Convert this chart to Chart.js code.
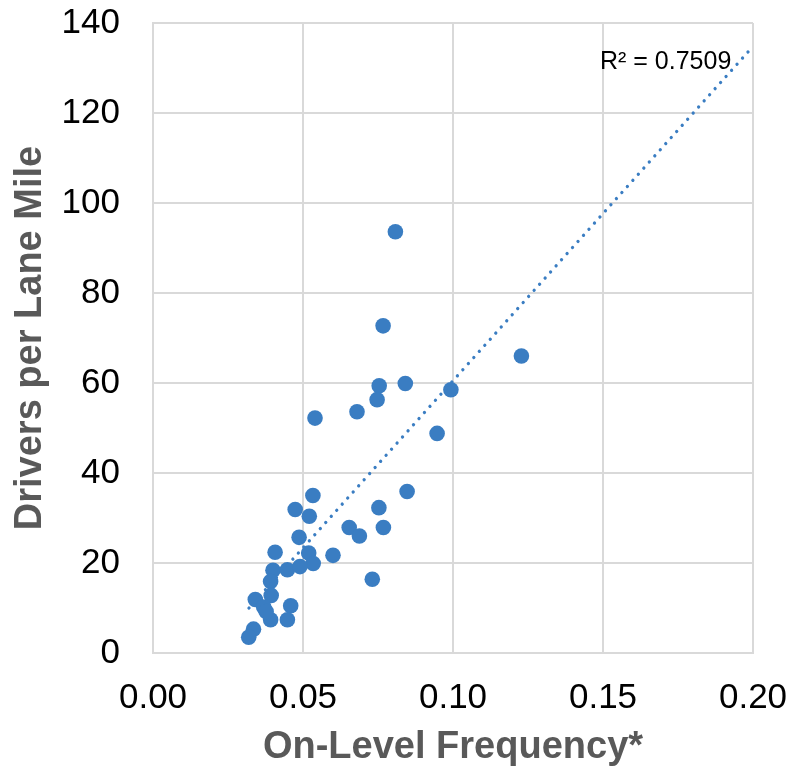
<!DOCTYPE html>
<html>
<head>
<meta charset="utf-8">
<script src="https://cdn.jsdelivr.net/npm/chart.js@4.4.1/dist/chart.umd.min.js"></script>
<style>
  html, body { margin: 0; padding: 0; background: #ffffff; }
  #wrap { width: 794px; height: 771px; }
</style>
</head>
<body>
<div id="wrap"><canvas id="c" width="794" height="771"></canvas></div>
<script>
// On-Level Frequency (x) values
const frequency = [
  0.0474, 0.0521, 0.0533, 0.0487, 0.0407, 0.0519, 0.0534, 0.0600, 0.0654, 0.0688,
  0.0400, 0.0448, 0.0490, 0.0392, 0.0394, 0.0341, 0.0369, 0.0459, 0.0392, 0.0448,
  0.0335, 0.0319, 0.0731, 0.0754, 0.0841, 0.0993, 0.0747, 0.0680, 0.0540, 0.0947,
  0.0847, 0.0753, 0.0768, 0.0808, 0.0767, 0.1228, 0.0377
];
// Drivers per Lane Mile (y) values
const drivers = [
  31.9, 30.4, 35.0, 25.7, 22.4, 22.2, 19.9, 21.7, 27.9, 26.0,
  18.4, 18.5, 19.2, 15.9, 12.8, 11.9, 10.2, 10.5, 7.4, 7.4,
  5.3, 3.5, 16.4, 59.4, 59.9, 58.5, 56.3, 53.6, 52.2, 48.8,
  35.9, 32.3, 27.9, 93.6, 72.7, 66.0, 9.2
];
// Linear trendline end points
const trendX = [0.032, 0.20];
const trendY = [10.0, 134.8];
const rSquaredLabel = "R² = 0.7509";
// Tick labels
const xTicks = ["0.00", "0.05", "0.10", "0.15", "0.20"];
const yTicks = ["0", "20", "40", "60", "80", "100", "120", "140"];

const pointColor = "#3A7DC2";
const gridColor = "#D9D9D9";

const scatterData = frequency.map((x, i) => ({ x: x, y: drivers[i] }));
const trendData = trendX.map((x, i) => ({ x: x, y: trendY[i] }));

const r2Plugin = {
  id: "r2label",
  afterDatasetsDraw(chart) {
    const ctx = chart.ctx;
    ctx.save();
    ctx.font = "25px 'Liberation Sans', Arial, sans-serif";
    ctx.fillStyle = "#000000";
    ctx.textAlign = "left";
    ctx.textBaseline = "middle";
    ctx.fillText(rSquaredLabel, 600, 62);
    ctx.restore();
  }
};

new Chart(document.getElementById("c"), {
  type: "scatter",
  data: {
    datasets: [
      {
        type: "line",
        label: "Linear trend",
        data: trendData,
        borderColor: "#3A7DC2",
        borderWidth: 3.3,
        borderDash: [0.01, 8.2],
        borderCapStyle: "round",
        pointRadius: 0,
        fill: false,
        tension: 0,
        order: 0
      },
      {
        label: "Drivers per Lane Mile",
        data: scatterData,
        backgroundColor: pointColor,
        borderColor: pointColor,
        borderWidth: 0,
        pointRadius: 7.8,
        pointHoverRadius: 7.8,
        order: 1
      }
    ]
  },
  options: {
    responsive: false,
    animation: false,
    devicePixelRatio: 1,
    layout: { padding: { left: 0, right: 41, top: 23, bottom: 0 } },
    plugins: {
      legend: { display: false },
      tooltip: { enabled: false }
    },
    scales: {
      x: {
        type: "linear",
        min: 0,
        max: 0.2,
        afterFit(scale) {
          scale.height = 118;
          scale.paddingLeft = 0; scale.paddingRight = 0;
          scale.paddingTop = 0; scale.paddingBottom = 0;
        },
        afterBuildTicks(scale) {
          scale.ticks = xTicks.map(t => ({ value: parseFloat(t) }));
        },
        ticks: {
          callback: (v, i) => xTicks[i],
          color: "#000000",
          font: { family: "'Liberation Sans', Arial, sans-serif", size: 35 },
          padding: 24,
          maxRotation: 0
        },
        grid: { color: gridColor, lineWidth: 2, drawTicks: false },
        border: { color: gridColor, width: 2 },
        title: {
          display: true,
          text: "On-Level Frequency*",
          color: "#595959",
          font: { family: "'Liberation Sans', Arial, sans-serif", size: 38, weight: "bold", lineHeight: 1 },
          padding: { top: 0, bottom: 4 }
        }
      },
      y: {
        type: "linear",
        min: 0,
        max: 140,
        afterFit(scale) {
          scale.width = 153;
          scale.paddingLeft = 0; scale.paddingRight = 0;
          scale.paddingTop = 0; scale.paddingBottom = 0;
        },
        afterBuildTicks(scale) {
          scale.ticks = yTicks.map(t => ({ value: parseFloat(t) }));
        },
        ticks: {
          callback: (v, i) => yTicks[i],
          color: "#000000",
          font: { family: "'Liberation Sans', Arial, sans-serif", size: 35 },
          padding: 33
        },
        grid: { color: gridColor, lineWidth: 2, drawTicks: false },
        border: { color: gridColor, width: 2 },
        title: {
          display: true,
          text: "Drivers per Lane Mile",
          color: "#595959",
          font: { family: "'Liberation Sans', Arial, sans-serif", size: 38, weight: "bold", lineHeight: 1 },
          padding: { top: 12, bottom: 0 }
        }
      }
    }
  },
  plugins: [r2Plugin]
});
</script>
</body>
</html>
